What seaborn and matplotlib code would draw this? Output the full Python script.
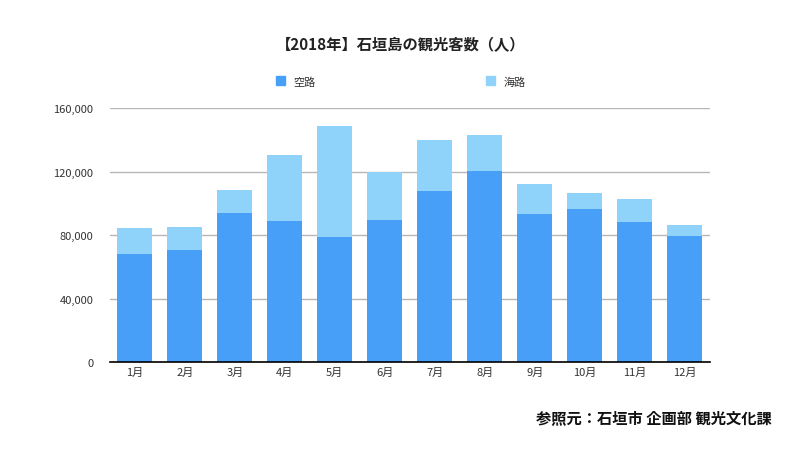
import matplotlib
matplotlib.use("Agg")
import matplotlib.pyplot as plt
import matplotlib.ticker as mticker
from matplotlib.patches import Patch
import seaborn as sns
import pandas as pd

# data
months = ["1月", "2月", "3月", "4月", "5月", "6月", "7月", "8月", "9月", "10月", "11月", "12月"]
air = [68200, 70700, 94000, 89000, 79000, 89600, 107900, 120500, 93400, 96600, 88400, 79600]
sea = [16400, 14500, 14500, 41600, 69900, 30300, 32100, 22700, 18900, 10100, 14500, 6900]

df = pd.DataFrame({"月": months, "空路": air, "海路": sea})
df["合計"] = df["空路"] + df["海路"]

sns.set_theme(style="white")
plt.rcParams["font.family"] = ["Noto Sans CJK JP", "DejaVu Sans"]

dark = "#479ff8"
light = "#8fd3fb"

fig = plt.figure(figsize=(8.02, 4.52), dpi=100)
ax = fig.add_axes([0.137, 0.197, 0.748, 0.561])

# stacked: total first (light), air on top of it (dark)
sns.barplot(x="月", y="合計", data=df, color=light, width=0.7, saturation=1,
            linewidth=0, ax=ax)
sns.barplot(x="月", y="空路", data=df, color=dark, width=0.7, saturation=1,
            linewidth=0, ax=ax)

ax.set_ylim(0, 160000)
ax.set_xlim(-0.5, 11.5)
ax.set_yticks([0, 40000, 80000, 120000, 160000])
ax.yaxis.set_major_formatter(mticker.FuncFormatter(lambda v, p: f"{int(v):,}"))
ax.grid(axis="y", color="#b7b7b7", linewidth=1)
ax.set_axisbelow(True)
for s in ["top", "right", "left"]:
    ax.spines[s].set_visible(False)
ax.spines["bottom"].set_color("black")
ax.spines["bottom"].set_linewidth(1.2)
ax.tick_params(axis="both", length=0, labelsize=8, colors="#333333")
ax.tick_params(axis="y", pad=12)
ax.set_xlabel("")
ax.set_ylabel("")

fig.text(0.5, 0.9, "【2018年】石垣島の観光客数（人）", ha="center", va="center",
         fontsize=11, fontweight="bold", color="#222222")

handles = [Patch(color=dark, label="空路"), Patch(color=light, label="海路")]
fig.legend(handles=handles, loc="center", bbox_to_anchor=(0.5, 0.818), ncol=2,
           frameon=False, fontsize=8, handlelength=0.8, handleheight=0.8,
           handletextpad=0.8, columnspacing=15.3, labelcolor="#333333")

fig.text(0.962, 0.075, "参照元：石垣市 企画部 観光文化課", ha="right", va="center",
         fontsize=11, fontweight="bold", color="#111111")

fig.savefig("out.png", dpi=100)
